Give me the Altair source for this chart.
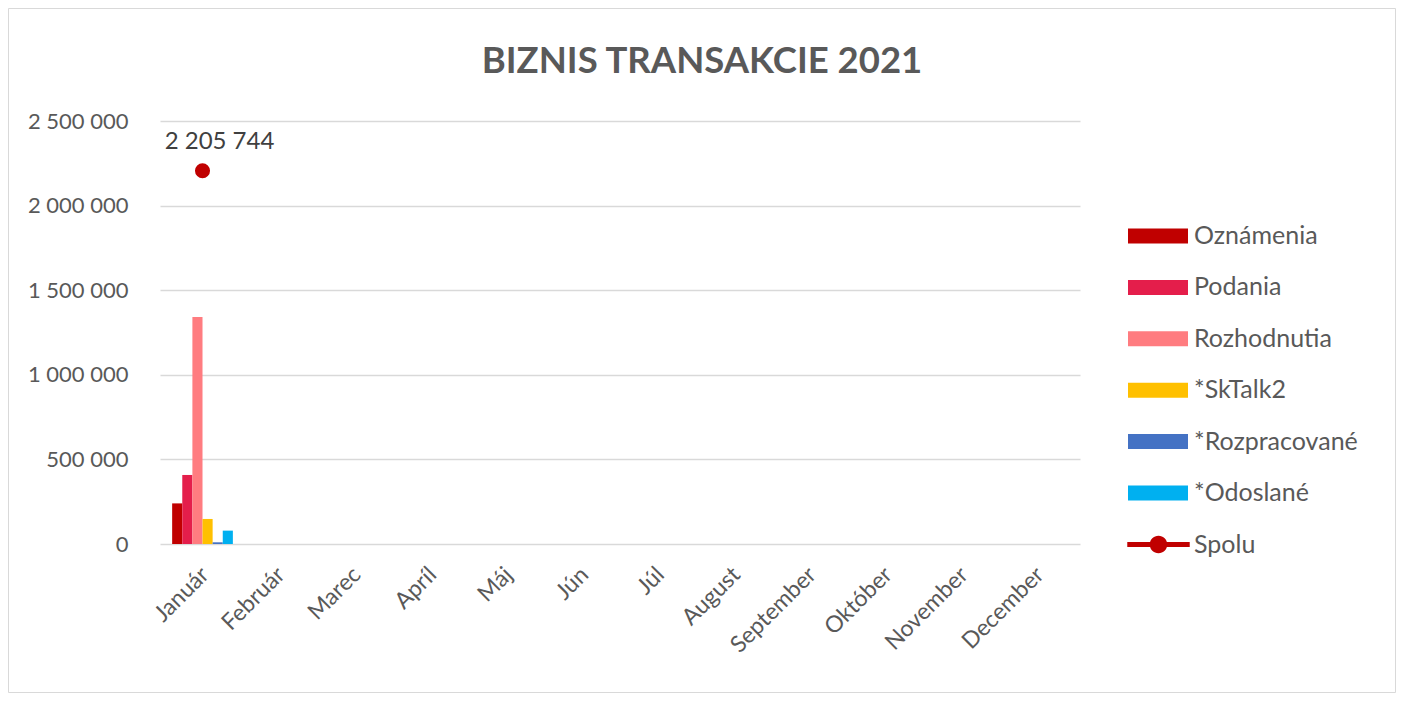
import altair as alt
import pandas as pd

months = ["Január", "Február", "Marec", "Apríl", "Máj", "Jún", "Júl",
          "August", "September", "Október", "November", "December"]
series = ["Oznámenia", "Podania", "Rozhodnutia", "*SkTalk2", "*Rozpracované", "*Odoslané"]
colors = ["#C00000", "#E41E4B", "#FF7C80", "#FFC000", "#4472C4", "#00B0F0"]

oznamenia = [240000, None, None, None, None, None, None, None, None, None, None, None]
podania = [408000, None, None, None, None, None, None, None, None, None, None, None]
rozhodnutia = [1341000, None, None, None, None, None, None, None, None, None, None, None]
sktalk2 = [148000, None, None, None, None, None, None, None, None, None, None, None]
rozpracovane = [10000, None, None, None, None, None, None, None, None, None, None, None]
odoslane = [79000, None, None, None, None, None, None, None, None, None, None, None]
spolu = [2205744, None, None, None, None, None, None, None, None, None, None, None]
spolu_name = "Spolu"
spolu_color = "#C00000"
y_ticks = [0, 500000, 1000000, 1500000, 2000000, 2500000]
title_text = "BIZNIS TRANSAKCIE 2021"

series_values = [oznamenia, podania, rozhodnutia, sktalk2, rozpracovane, odoslane]
rows = []
for s, vals in zip(series, series_values):
    for m, v in zip(months, vals):
        rows.append({"month": m, "series": s, "value": v})
bar_df = pd.DataFrame(rows)
spolu_df = pd.DataFrame({"month": months, "series": [spolu_name] * len(months), "value": spolu})
spolu_df = spolu_df.dropna()

FONT = "Lato"
GREY = "#595959"
fmt = "replace(format(datum.value, ','), regexp(',', 'g'), ' ')"

rect_path = "M-1,-0.25H1V0.25H-1Z"
line_circle_path = ("M-1,-0.08H1V0.08H-1Z "
                    "M0.28,0A0.28,0.28 0 1,1 -0.28,0A0.28,0.28 0 1,1 0.28,0Z")

x_enc = alt.X("month:N", sort=months,
              scale=alt.Scale(domain=months, paddingInner=0.2, paddingOuter=0.16),
              axis=alt.Axis(title=None, labelAngle=-45, labelFont=FONT, labelFontSize=23,
                            labelColor=GREY, ticks=False, domain=False, labelPadding=19,
                            labelOffset=-5, labelAlign="right", labelBaseline="top",
                            grid=False))
y_enc = alt.Y("value:Q", scale=alt.Scale(domain=[0, 2500000], nice=False),
              axis=alt.Axis(title=None, values=y_ticks, labelExpr=fmt, labelFont=FONT,
                            labelFontSize=22, labelColor=GREY, ticks=False, domain=False,
                            labelPadding=32, gridColor="#D9D9D9", gridWidth=1.3))

bars = alt.Chart(bar_df).mark_bar().encode(
    x=x_enc,
    xOffset=alt.XOffset("series:N", sort=series,
                        scale=alt.Scale(domain=series, paddingInner=0, paddingOuter=0)),
    y=y_enc,
    color=alt.Color("series:N", sort=series,
                    scale=alt.Scale(domain=series, range=colors),
                    legend=alt.Legend(title=None, orient="none", legendX=968, legendY=85,
                                      symbolType=rect_path, symbolSize=3600,
                                      symbolStrokeWidth=0, symbolOpacity=1,
                                      labelFont=FONT, labelFontSize=25, labelColor=GREY,
                                      labelLimit=400,
                                      labelOffset=6, rowPadding=8.4, padding=0)),
)

points = alt.Chart(spolu_df).mark_point(filled=True, shape="circle", size=227, opacity=1).encode(
    x=alt.X("month:N", sort=months),
    y=alt.Y("value:Q"),
    color=alt.Color("series:N",
                    scale=alt.Scale(domain=[spolu_name], range=[spolu_color]),
                    legend=alt.Legend(title=None, orient="none", legendX=967, legendY=392,
                                      symbolType=line_circle_path, symbolSize=3900,
                                      symbolStrokeWidth=0, symbolOpacity=1,
                                      labelFont=FONT, labelFontSize=25, labelColor=GREY,
                                      labelLimit=400,
                                      labelOffset=4, padding=0)),
)

labels = alt.Chart(spolu_df).transform_calculate(
    label=fmt
).mark_text(dx=17, dy=-29, font=FONT, fontSize=24, color="#404040").encode(
    x=alt.X("month:N", sort=months),
    y=alt.Y("value:Q"),
    text="label:N",
)

title = alt.Chart(pd.DataFrame({"t": [title_text]})).mark_text(
    font=FONT, fontSize=36.5, fontWeight="bold", color=GREY, baseline="alphabetic", align="center"
).encode(x=alt.value(542), y=alt.value(-48), text="t:N")

frame = alt.Chart(pd.DataFrame({"k": [0]})).mark_rect(
    fill="transparent", stroke="#D9D9D9", strokeWidth=1
).encode(
    x=alt.value(-151.5), x2=alt.value(1235.5), y=alt.value(-112.5), y2=alt.value(571.5)
)

chart = alt.layer(frame, title, bars, points, labels).resolve_scale(
    color="independent"
).resolve_legend(color="independent").properties(
    width=920, height=423,
    autosize=alt.AutoSizeParams(type="none"),
    padding={"left": 152, "top": 113, "right": 316, "bottom": 149},
    view=alt.ViewConfig(stroke="transparent", strokeWidth=0),
).configure_view(stroke="transparent", strokeWidth=0).configure(background="white")

chart.save("out.html", embed_options={"renderer": "svg", "actions": False})
